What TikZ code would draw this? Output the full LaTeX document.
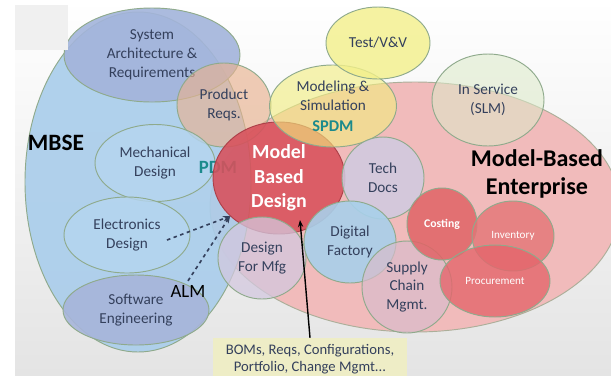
\documentclass[tikz,border=0pt]{standalone}
\usepackage{fontspec}
\setmainfont{Carlito}
\usetikzlibrary{shapes.geometric,arrows.meta,positioning}
\definecolor{bggray}{HTML}{E4E4E4}
\definecolor{cornergray}{HTML}{F0F0F0}
\definecolor{rim}{HTML}{8FAA8C}
\definecolor{navy}{HTML}{34405C}
\definecolor{pdmteal}{HTML}{1C8A8C}
\definecolor{mbseblue}{HTML}{A9CDEB}
\definecolor{mbepink}{HTML}{F1BBBB}
\definecolor{sysblue}{HTML}{A3B4DB}
\definecolor{reqorange}{HTML}{E9B290}
\definecolor{testyellow}{HTML}{F3F08A}
\definecolor{modyellow}{HTML}{F2EE7E}
\definecolor{slmgreen}{HTML}{DCEAC8}
\definecolor{mechblue}{HTML}{B5D5EF}
\definecolor{swblue}{HTML}{A7B5DA}
\definecolor{mbdred}{HTML}{D8505B}
\definecolor{docslav}{HTML}{CFCBE1}
\definecolor{dfmlav}{HTML}{D3C8DE}
\definecolor{dfblue}{HTML}{A8D0EA}
\definecolor{sclav}{HTML}{D9BCCB}
\definecolor{costred}{HTML}{E06466}
\definecolor{invred}{HTML}{E47476}
\definecolor{procred}{HTML}{E4666C}
\definecolor{bombeige}{HTML}{EEEDC6}
\tikzset{
  blob/.style 2 args={ellipse, draw=rim, line width=0.8pt, inner sep=0pt,
    minimum width=#1*0.3mm, minimum height=#2*0.3mm, align=center,
    text=navy, font=\fontsize{13}{16}\selectfont},
  smallblob/.style 2 args={blob={#1}{#2}, text=white, font=\fontsize{9.5}{12}\selectfont},
  biglabel/.style={font=\fontsize{20.5}{24}\selectfont\bfseries, align=center},
  toollabel/.style={font=\fontsize{16}{18}\selectfont\bfseries, text=pdmteal},
  almarrow/.style={dashed, line width=1.4pt, navy, -{Stealth[length=6pt]}}
}
\begin{document}
\begin{tikzpicture}[x=0.3mm,y=-0.3mm]
\useasboundingbox (0,0) rectangle (611,375);
\fill[white] (0,0) rectangle (611,375);
\shade[top color=white, bottom color=bggray] (15,0) rectangle (611,375);

% the two big domains
\node[blob={410}{250}, fill=mbepink, draw=rim!70!mbepink] (mbe) at (415,207) {};
\node[blob={226}{340}, fill=mbseblue, fill opacity=0.9] (mbse) at (138,182) {};
\node[biglabel, font=\fontsize{20}{24}\selectfont\bfseries] (mbselbl) at (56,143) {MBSE};
\node[biglabel] (mbelbl) at (537,174) {Model-Based\\Enterprise};

% engineering side
\node[blob={176}{94}, fill=sysblue, fill opacity=0.9, text opacity=1] (sysarch) at (152,55) {System\\Architecture \&\\Requirements};
\node[blob={94}{84}, fill=reqorange, fill opacity=0.65, text opacity=1] (prodreq) at (224,105) {Product\\Reqs.};
\node[blob={120}{77}, fill=mechblue, fill opacity=0.8, text opacity=1] (mech) at (155,163) {Mechanical\\Design};
\node[blob={126}{76}, fill=mechblue, fill opacity=0.8, text opacity=1] (elec) at (127,235) {Electronics\\Design};
\node[blob={146}{70}, fill=swblue, fill opacity=0.9, text opacity=1] (sweng) at (136,310) {Software\\Engineering};
\node[toollabel] (pdm) at (218,167) {PDM};

% the core
\node[blob={132}{112}, fill=mbdred, fill opacity=0.88, text opacity=1, text=white,
  font=\fontsize{17}{21}\selectfont\bfseries, draw=mbdred!80!black] (mbd) at (279,178) {Model\\Based\\Design};
\node[blob={127}{82}, fill=modyellow, fill opacity=0.6, text opacity=1] (modsim) at (333,106)
  {Modeling \&\\Simulation\\[2pt]{\fontsize{14}{16}\selectfont\bfseries\color{pdmteal}SPDM}};
\node[blob={104}{72}, fill=testyellow, fill opacity=0.8, text opacity=1] (testvv) at (378,43) {Test/V\&V};
\node[blob={112}{92}, fill=slmgreen, fill opacity=0.55, text opacity=1] (inservice) at (488,100) {In Service\\(SLM)};

% enterprise side
\node[blob={82}{82}, fill=docslav, fill opacity=0.85, text opacity=1] (techdocs) at (383,178) {Tech\\Docs};
\node[blob={88}{82}, fill=dfmlav, fill opacity=0.75, text opacity=1] (dfm) at (262,258) {Design\\For Mfg};
\node[blob={92}{82}, fill=dfblue, fill opacity=0.9, text opacity=1] (digfac) at (350,242) {Digital\\Factory};
\node[blob={90}{92}, fill=sclav, fill opacity=0.7, text opacity=1] (supply) at (407,287) {Supply\\Chain\\Mgmt.};
\node[smallblob={70}{72}, fill=costred, fill opacity=0.85, text opacity=1, font=\fontsize{10}{12}\selectfont\bfseries] (costing) at (442,224) {Costing};
\node[smallblob={82}{70}, fill=invred, fill opacity=0.8, text opacity=1] (inventory) at (513,236) {Inventory};
\node[smallblob={110}{72}, fill=procred, fill opacity=0.8, text opacity=1] (procure) at (495,281) {Procurement};

\fill[cornergray] (15,5) rectangle (68,50);

% ALM links
\node[font=\fontsize{16}{18}\selectfont] (alm) at (188,291) {ALM};
\coordinate (elecfrom) at (167,240);
\draw[almarrow] (elecfrom) -- (mbd.218);
\draw[almarrow] (alm.north) -- (mbd.218);

% data note
\node[fill=bombeige, minimum width=194*0.3mm, minimum height=42*0.3mm, align=center,
  font=\fontsize{12.5}{15}\selectfont, text=navy] (bom) at (310,359) {BOMs, Reqs, Configurations,\\Portfolio, Change Mgmt...};
\coordinate (mbdtip) at (300,220);
\draw[line width=1.2pt, -{Stealth[length=6pt]}] (bom.north) -- (mbdtip);
\end{tikzpicture}
\end{document}
